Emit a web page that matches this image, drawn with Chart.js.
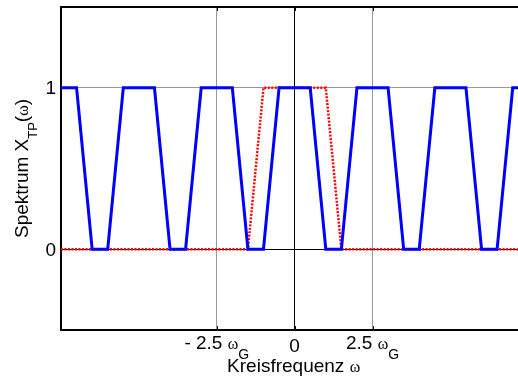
<!DOCTYPE html>
<html>
<head>
<meta charset="utf-8">
<title>Spektrum X_TP</title>
<script src="https://cdn.jsdelivr.net/npm/chart.js@4.4.0/dist/chart.umd.min.js"></script>
<style>
  html, body { margin: 0; padding: 0; background: #fff; overflow: hidden; }
</style>
</head>
<body>
<canvas id="spektrum" width="518" height="378"></canvas>
<script>
// Periodic spectrum (blue): trapezoid repeated every 2.5 ωG
const omegaPeriodic = [-7.5, -7, -6.5, -6, -5.5, -4.5, -4, -3.5, -3, -2, -1.5, -1,
                       -0.5, 0.5, 1, 1.5, 2, 3, 3.5, 4, 4.5, 5.5, 6, 6.5, 7, 7.5];
const xPeriodic     = [1, 1, 0, 0, 1, 1, 0, 0, 1, 1, 0, 0,
                       1, 1, 0, 0, 1, 1, 0, 0, 1, 1, 0, 0, 1, 1];

// Baseband spectrum (red, dotted)
const omegaBase = [-7.5, -1.5, -1, 1, 1.5, 7.5];
const xBase     = [0, 0, 1, 1, 0, 0];

// Axis ticks and labels
const xTicks = [-2.5, 0, 2.5];
const xTickLabels = [['- 2.5 ', 'ω', 'G'], ['0'], ['2.5 ', 'ω', 'G']];
const yTicks = [0, 1];
const yTickLabels = ['0', '1'];
const omegaMin = -7.5, omegaMax = 7.17;
const yMin = -0.5, yMax = 1.5;

const MAIN = '19px "Liberation Sans", Arial, sans-serif';
const SUB = '14px "Liberation Sans", Arial, sans-serif';
const SUB_Y = '13px "Liberation Sans", Arial, sans-serif';
const SYM = '16px "Liberation Serif", "Times New Roman", serif';

function toPoints(xs, ys) {
    return xs.map((x, i) => ({ x: x, y: ys[i] }));
}

// draws a run of text pieces (font / baseline shift) centred on x
function drawParts(ctx, parts, x, y) {
    let total = 0;
    parts.forEach(p => { ctx.font = p.font; total += ctx.measureText(p.text).width; });
    let cx = x - total / 2;
    ctx.textAlign = 'left';
    ctx.textBaseline = 'alphabetic';
    parts.forEach(p => {
        ctx.font = p.font;
        ctx.fillText(p.text, cx, y + (p.dy || 0));
        cx += ctx.measureText(p.text).width;
    });
}

const labelsPlugin = {
    id: 'matlabLabels',
    afterDraw(chart) {
        const ctx = chart.ctx;
        const area = chart.chartArea;
        const xs = chart.scales.x, ys = chart.scales.y;
        ctx.save();

        // top frame line
        ctx.strokeStyle = '#000';
        ctx.lineWidth = 2;
        ctx.beginPath();
        ctx.moveTo(area.left - 1, area.top);
        ctx.lineTo(area.right, area.top);
        ctx.stroke();

        // small inward tick marks
        ctx.lineWidth = 1;
        xTicks.forEach(v => {
            const px = Math.round(xs.getPixelForValue(v)) + 0.5;
            ctx.beginPath();
            ctx.moveTo(px, area.bottom); ctx.lineTo(px, area.bottom - 4);
            ctx.moveTo(px, area.top); ctx.lineTo(px, area.top + 4);
            ctx.stroke();
        });

        ctx.fillStyle = '#000';

        // x tick labels with subscript G
        xTicks.forEach((v, i) => {
            const lab = xTickLabels[i];
            const px = xs.getPixelForValue(v);
            if (lab.length === 1) {
                drawParts(ctx, [{ text: lab[0], font: MAIN }], px, area.bottom + 22);
            } else {
                drawParts(ctx, [
                    { text: lab[0], font: MAIN },
                    { text: lab[1], font: SYM },
                    { text: lab[2], font: SUB, dy: 10 }
                ], px, area.bottom + 19);
            }
        });

        // y tick labels
        ctx.font = MAIN;
        ctx.textAlign = 'right';
        ctx.textBaseline = 'alphabetic';
        yTicks.forEach((v, i) => {
            ctx.fillText(yTickLabels[i], area.left - 5, ys.getPixelForValue(v) + 6.5);
        });

        // x axis title, centred under the origin
        drawParts(ctx, [
            { text: 'Kreisfrequenz ', font: MAIN },
            { text: 'ω', font: SYM }
        ], xs.getPixelForValue(0) - 1, 372);

        // y axis title, rotated
        ctx.translate(28, (area.top + area.bottom) / 2);
        ctx.rotate(-Math.PI / 2);
        drawParts(ctx, [
            { text: 'Spektrum X', font: MAIN },
            { text: 'TP', font: SUB_Y, dy: 9 },
            { text: '(', font: MAIN },
            { text: 'ω', font: SYM },
            { text: ')', font: MAIN }
        ], 0, 0);

        ctx.restore();
    }
};

new Chart(document.getElementById('spektrum'), {
    type: 'line',
    data: {
        datasets: [
            {
                label: 'periodisch',
                data: toPoints(omegaPeriodic, xPeriodic),
                borderColor: '#0000ff',
                borderWidth: 3,
                pointRadius: 0,
                tension: 0
            },
            {
                label: 'Basisband',
                data: toPoints(omegaBase, xBase),
                borderColor: '#ff0000',
                borderWidth: 2.5,
                borderDash: [2, 1.5],
                pointRadius: 0,
                tension: 0
            }
        ]
    },
    options: {
        responsive: false,
        animation: false,
        devicePixelRatio: 1,
        events: [],
        layout: { padding: { left: 61, top: 7, right: 0, bottom: 48 } },
        plugins: {
            legend: { display: false },
            tooltip: { enabled: false }
        },
        scales: {
            x: {
                type: 'linear',
                min: omegaMin,
                max: omegaMax,
                afterBuildTicks: s => { s.ticks = xTicks.map(v => ({ value: v })); },
                ticks: { display: false },
                grid: {
                    drawTicks: false,
                    lineWidth: 1,
                    color: c => (c.tick && c.tick.value === 0) ? '#000' : '#999'
                },
                border: { display: true, color: '#000', width: 2 }
            },
            y: {
                type: 'linear',
                min: yMin,
                max: yMax,
                afterBuildTicks: s => { s.ticks = yTicks.map(v => ({ value: v })); },
                ticks: { display: false },
                grid: {
                    drawTicks: false,
                    lineWidth: 1,
                    color: c => (c.tick && c.tick.value === 0) ? '#000' : '#999'
                },
                border: { display: true, color: '#000', width: 2 }
            }
        }
    },
    plugins: [labelsPlugin]
});
</script>
</body>
</html>
